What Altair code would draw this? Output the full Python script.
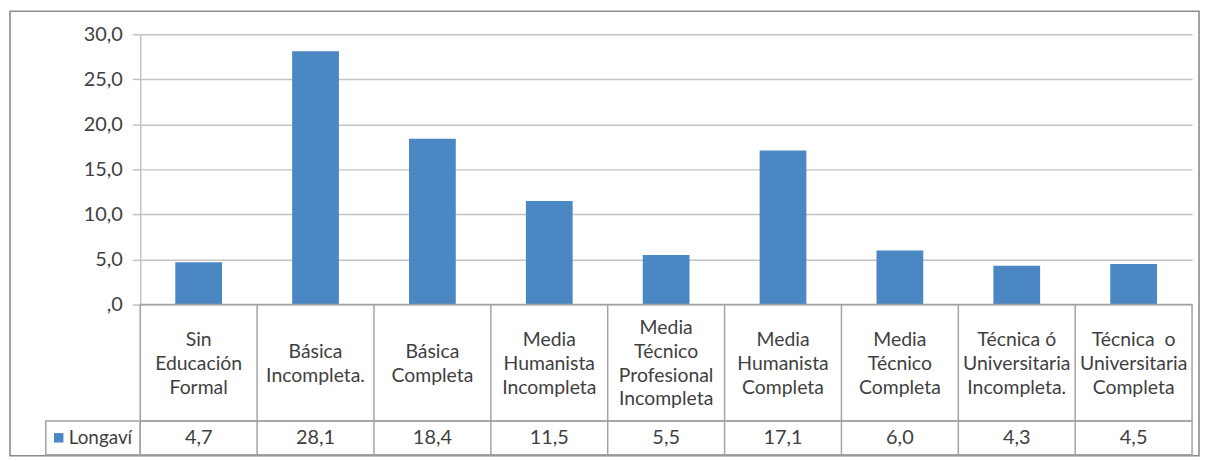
import altair as alt
import pandas as pd

# ---- data ----
categories = [
    "Sin\nEducación\nFormal",
    "Básica\nIncompleta.",
    "Básica\nCompleta",
    "Media\nHumanista\nIncompleta",
    "Media\nTécnico\nProfesional\nIncompleta",
    "Media\nHumanista\nCompleta",
    "Media\nTécnico\nCompleta",
    "Técnica ó\nUniversitaria\nIncompleta.",
    "Técnica\u00a0 o\nUniversitaria\nCompleta",
]
values = [4.7, 28.1, 18.4, 11.5, 5.5, 17.1, 6.0, 4.3, 4.5]
series_name = "Longaví"
y_ticks = [0, 5, 10, 15, 20, 25, 30]

df = pd.DataFrame({"cat": categories, "val": values})
legend_df = pd.DataFrame({"name": [series_name]})
inner_df = pd.DataFrame({"cat": categories[1:]})

# one row per text line of each category label, centred on the row
line_rows = []
for c in categories:
    parts = c.split("\n")
    n = len(parts)
    for i, p in enumerate(parts):
        line_rows.append({"cat": c, "line": p, "pos": (n - 1) / 2 - i})
lines_df = pd.DataFrame(line_rows)

# ---- styles ----
BAR = "#4A87C3"
GRID = "#c3c3c3"
LINE = "#a3a3a3"
BORDER = "#8c8c8c"
TXT = "#3f3f3f"
FONT = "Lato"
FS = 20
FS_LAB = 19.5
W = 1058
H_TOP = 272
H_LAB = 117
H_VAL = 34
LH = 24  # line height in label row

label_expr = "datum.value == 0 ? ',0' : replace(format(datum.value, '.1f'), '.', ',')"

# ---- top: bars ----
frame = alt.Chart(legend_df).mark_rect(
    fillOpacity=0, stroke=BORDER, strokeWidth=1.6
).encode(
    x=alt.value(-131), x2=alt.value(W + 7), y=alt.value(-23), y2=alt.value(H_TOP + H_LAB + H_VAL + 1)
)

bars = alt.Chart(df).mark_bar(color=BAR).encode(
    x=alt.X("cat:N", sort=categories, axis=None,
            scale=alt.Scale(paddingInner=0.6, paddingOuter=0.3)),
    y=alt.Y("val:Q", scale=alt.Scale(domain=[0, 30], nice=False),
            axis=alt.Axis(values=y_ticks, labelExpr=label_expr, title=None,
                          grid=True, gridColor=GRID, gridWidth=1.5,
                          domainColor=GRID, domainWidth=1.5,
                          tickColor=GRID, tickWidth=1.5, tickSize=8,
                          labelPadding=10, labelFont=FONT, labelFontSize=FS,
                          labelColor=TXT)),
)

top = alt.layer(frame, bars).properties(
    width=W, height=H_TOP, view=alt.ViewBackground(stroke=None)
)

# ---- table: category labels row ----
x_tab = alt.X("cat:N", sort=categories, axis=None,
              scale=alt.Scale(paddingInner=0, paddingOuter=0, domain=categories))

half = H_LAB / 2 / LH
lab_text = alt.Chart(lines_df).mark_text(
    font=FONT, fontSize=FS_LAB, color=TXT, baseline="middle", align="center", dy=1
).encode(
    x=x_tab,
    y=alt.Y("pos:Q", axis=None, scale=alt.Scale(domain=[-half, half], nice=False, zero=False)),
    text="line:N",
)

lab_rules = alt.Chart(inner_df).mark_rule(color=LINE, strokeWidth=1.5).encode(
    x=alt.X("cat:N", sort=categories, axis=None, bandPosition=0,
            scale=alt.Scale(paddingInner=0, paddingOuter=0, domain=categories))
)

lab_row = alt.layer(lab_rules, lab_text).properties(
    width=W, height=H_LAB,
    view=alt.ViewBackground(stroke=LINE, strokeWidth=1.5)
)

# ---- table: values row ----
val_text = alt.Chart(df).transform_calculate(
    lbl="replace(format(datum.val, '.1f'), '.', ',')"
).mark_text(
    font=FONT, fontSize=FS, color=TXT, baseline="middle", align="center"
).encode(x=x_tab, text="lbl:N")

val_rules = alt.Chart(inner_df).mark_rule(color=LINE, strokeWidth=1.5).encode(
    x=alt.X("cat:N", sort=categories, axis=None, bandPosition=0,
            scale=alt.Scale(paddingInner=0, paddingOuter=0, domain=categories))
)

legend_box = alt.Chart(legend_df).mark_rect(
    fillOpacity=0, stroke=LINE, strokeWidth=1.5
).encode(x=alt.value(-95), x2=alt.value(0), y=alt.value(0), y2=alt.value(H_VAL))

legend_sym = alt.Chart(legend_df).mark_square(
    color=BAR, size=90, opacity=1
).encode(x=alt.value(-82))

legend_txt = alt.Chart(legend_df).mark_text(
    font=FONT, fontSize=19, color=TXT, align="left", baseline="middle"
).encode(x=alt.value(-72), text="name:N")

val_row = alt.layer(val_rules, legend_box, val_text, legend_sym, legend_txt).properties(
    width=W, height=H_VAL,
    view=alt.ViewBackground(stroke=LINE, strokeWidth=1.5)
)

chart = alt.vconcat(top, lab_row, val_row, spacing=0, bounds="flush").properties(
    padding={"left": 1, "top": 1, "right": 1, "bottom": 1},
    background="white",
).configure_view(stroke=None)

chart.save("out.html", embed_options={"renderer": "svg", "actions": False})
